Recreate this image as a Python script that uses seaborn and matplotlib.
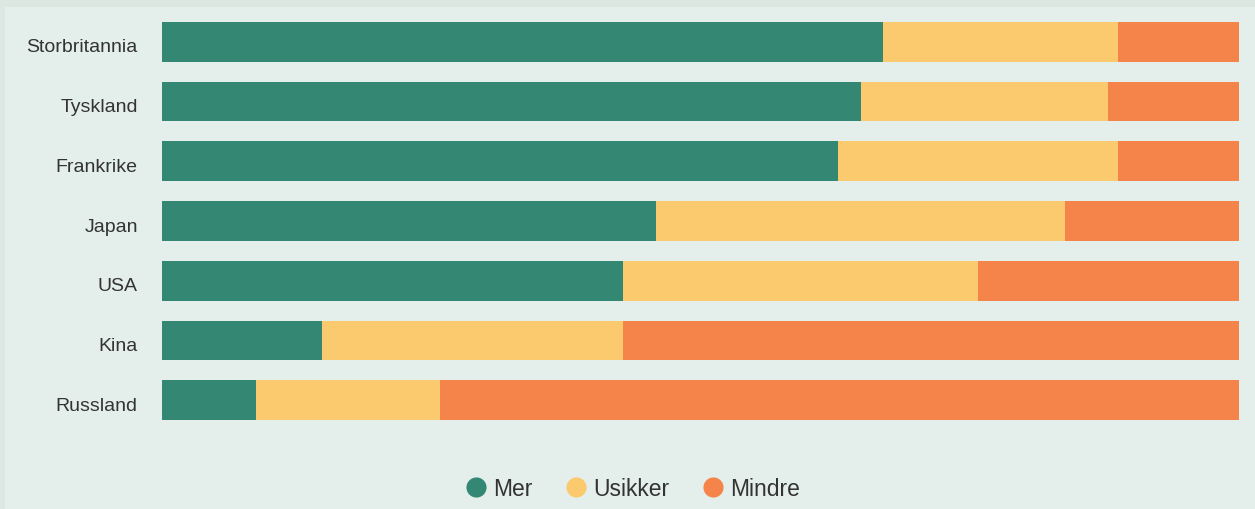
import matplotlib
matplotlib.use("Agg")
import matplotlib.pyplot as plt
from matplotlib.patches import Rectangle
from matplotlib.lines import Line2D
from matplotlib.transforms import ScaledTranslation
import seaborn as sns
import pandas as pd

countries = ["Storbritannia", "Tyskland", "Frankrike", "Japan", "USA", "Kina", "Russland"]
mer = [66.9, 64.9, 62.8, 45.9, 42.8, 14.9, 8.7]
usikker = [21.9, 22.9, 26.0, 37.9, 33.0, 27.9, 17.1]
mindre = [11.2, 12.2, 11.2, 16.2, 24.2, 57.2, 74.2]
series = ["Mer", "Usikker", "Mindre"]
colors = ["#348873", "#FCCA6E", "#F5844A"]

sns.set_theme(style="white")
plt.rcParams["font.family"] = ["Liberation Sans", "DejaVu Sans"]

df = pd.DataFrame({"land": countries, "Mer": mer, "Usikker": usikker, "Mindre": mindre})
df["c_mer"] = df["Mer"]
df["c_usikker"] = df["Mer"] + df["Usikker"]
df["c_mindre"] = df["Mer"] + df["Usikker"] + df["Mindre"]

W, H = 1255, 510
fig = plt.figure(figsize=(W / 100, H / 100), dpi=100)
fig.patch.set_facecolor("#DDE7E2")
fig.patches.append(Rectangle((5 / W, 0), 1, 1 - 8 / H, transform=fig.transFigure,
                             facecolor="#E4EFEC", edgecolor="none", zorder=-10))

ax = fig.add_axes([162 / W, 1 - 431 / H, (1239 - 162) / W, (431 - 13) / H])
ax.set_facecolor("none")
ax.set_zorder(5)

for col, c in zip(["c_mindre", "c_usikker", "c_mer"], colors[::-1]):
    sns.barplot(data=df, x=col, y="land", order=countries, color=c, orient="h",
                width=0.667, ax=ax, saturation=1, edgecolor="none", linewidth=0)

ax.set_xlim(0, df["c_mindre"].max())
ax.set_ylim(6.5, -0.5)
ax.set_xlabel("")
ax.set_ylabel("")
ax.set_xticks([])
for s in ax.spines.values():
    s.set_visible(False)
ax.tick_params(axis="y", length=0, pad=17.5, labelsize=14, labelcolor="#333333")
off = ScaledTranslation(0, -3 / 100, fig.dpi_scale_trans)
for lab in ax.get_yticklabels():
    lab.set_transform(lab.get_transform() + off)

handles = [Line2D([], [], marker="o", linestyle="none", markersize=14.5,
                  markerfacecolor=c, markeredgecolor="none") for c in colors]
leg = fig.legend(handles, series, loc="center", bbox_to_anchor=(0.503, 1 - 490 / H),
                 ncol=3, frameon=False, fontsize=16.5, handletextpad=0.15,
                 columnspacing=1.3, handlelength=1.2)
leg.set_zorder(6)
for t in leg.get_texts():
    t.set_color("#333333")

fig.savefig("out.png", dpi=100, facecolor=fig.get_facecolor())
